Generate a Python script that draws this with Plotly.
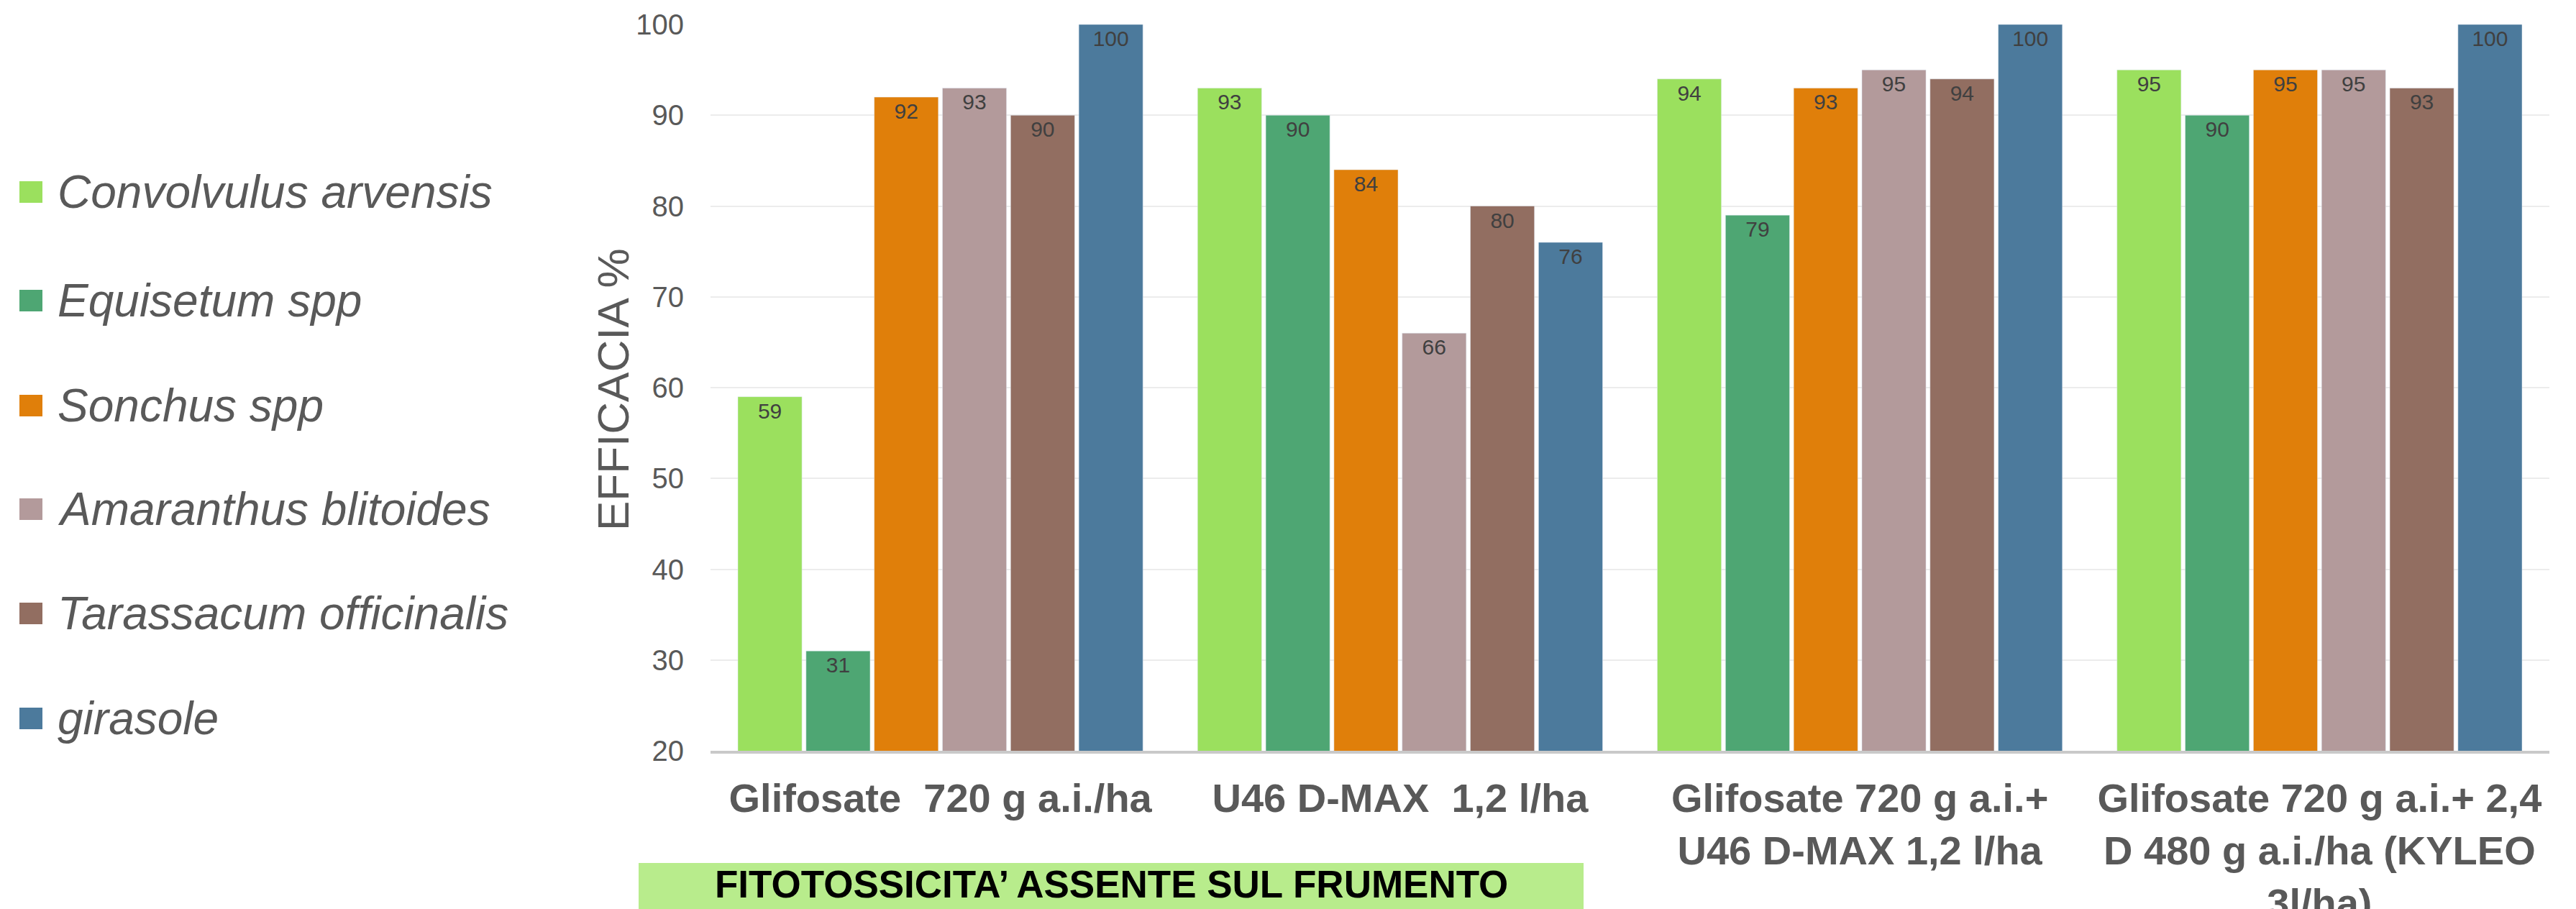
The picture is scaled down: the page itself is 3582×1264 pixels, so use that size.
import plotly.graph_objects as go

categories = [
    "Glifosate\u00a0 720 g a.i./ha",
    "U46 D-MAX\u00a0 1,2 l/ha",
    "Glifosate 720 g a.i.+<br>U46 D-MAX 1,2 l/ha",
    "Glifosate 720 g a.i.+ 2,4<br>D 480 g a.i./ha (KYLEO<br>3l/ha)",
]
series_names = [
    "Convolvulus arvensis",
    "Equisetum spp",
    "Sonchus spp",
    "Amaranthus blitoides",
    "Tarassacum officinalis",
    "girasole",
]
convolvulus = [59, 93, 94, 95]
equisetum = [31, 90, 79, 90]
sonchus = [92, 84, 93, 95]
amaranthus = [93, 66, 95, 95]
tarassacum = [90, 80, 94, 93]
girasole = [100, 76, 100, 100]
series_values = [convolvulus, equisetum, sonchus, amaranthus, tarassacum, girasole]
colors = ["#9be05e", "#4ea673", "#e07f0a", "#b39a9b", "#926e61", "#4c7a9c"]
y_ticks = [20, 30, 40, 50, 60, 70, 80, 90, 100]
y_title = "EFFICACIA %"
box_text = "FITOTOSSICITA\u2019 ASSENTE SUL FRUMENTO"

W, H = 3582, 1264
L, R, T, B = 988, 37, 34, 220
PW, PH = W - L - R, H - T - B
FONT = "Liberation Sans, Arial, sans-serif"
GREY = "#595959"


def px_x(x):
    return (x - L) / PW


def px_y(y):
    return (H - B - y) / PH


fig = go.Figure()
for name, vals, col in zip(series_names, series_values, colors):
    fig.add_trace(go.Bar(
        name=name, x=categories, y=vals, marker_color=col,
        text=[str(v) for v in vals], textposition="inside",
        insidetextanchor="end", textangle=0, constraintext="none",
        textfont=dict(size=30, color="#404040", family=FONT),
        showlegend=False, hoverinfo="skip",
    ))

shapes = []
annotations = []
item_y = [267, 418, 564, 708, 853, 999]
for name, col, cy in zip(series_names, colors, item_y):
    shapes.append(dict(type="rect", xref="paper", yref="paper",
                       x0=px_x(27), x1=px_x(59), y0=px_y(cy - 15), y1=px_y(cy + 15),
                       fillcolor=col, line=dict(width=0)))
    annotations.append(dict(xref="paper", yref="paper", x=px_x(78), y=px_y(cy),
                            xanchor="left", yanchor="middle", showarrow=False,
                            text="<i>" + name + "</i>",
                            font=dict(size=64, color=GREY, family=FONT)))

# y axis title
annotations.append(dict(xref="paper", yref="paper", x=px_x(852), y=px_y(542),
                        xanchor="center", yanchor="middle", showarrow=False,
                        textangle=-90, text=y_title,
                        font=dict(size=62, color=GREY, family=FONT)))

shapes.append(dict(type="rect", xref="paper", yref="paper",
                   x0=px_x(888), x1=px_x(2202), y0=px_y(1280), y1=px_y(1200),
                   fillcolor="#b8ec8c", line=dict(width=0), layer="below"))
annotations.append(dict(xref="paper", yref="paper", x=px_x(1545), y=px_y(1229),
                        xanchor="center", yanchor="middle", showarrow=False,
                        text="<b>" + box_text + "</b>",
                        font=dict(size=53, color="#000000", family=FONT)))

fig.update_layout(
    width=W, height=H,
    margin=dict(l=L, r=R, t=T, b=B, autoexpand=False),
    paper_bgcolor="white", plot_bgcolor="white",
    barmode="group", bargap=0.11, bargroupgap=0.06,
    font=dict(family=FONT, color=GREY),
    shapes=shapes, annotations=annotations,
    xaxis=dict(
        showline=True, linecolor="#c9c9c9", linewidth=4,
        tickfont=dict(size=56, color=GREY, family=FONT),
        ticks="", ticklabelstandoff=14, automargin=False,
        tickprefix="<b>", ticksuffix="</b>",
    ),
    yaxis=dict(
        range=[20, 100], tickvals=y_ticks, showgrid=True,
        gridcolor="#ececec", gridwidth=2, zeroline=False,
        tickfont=dict(size=40, color=GREY, family=FONT),
        ticklabelstandoff=36, automargin=False,
    ),
)

fig.write_html(
    "out.html",
    config={"displayModeBar": False},
    post_script="document.body.style.margin='0';document.body.style.overflow='hidden';",
)
